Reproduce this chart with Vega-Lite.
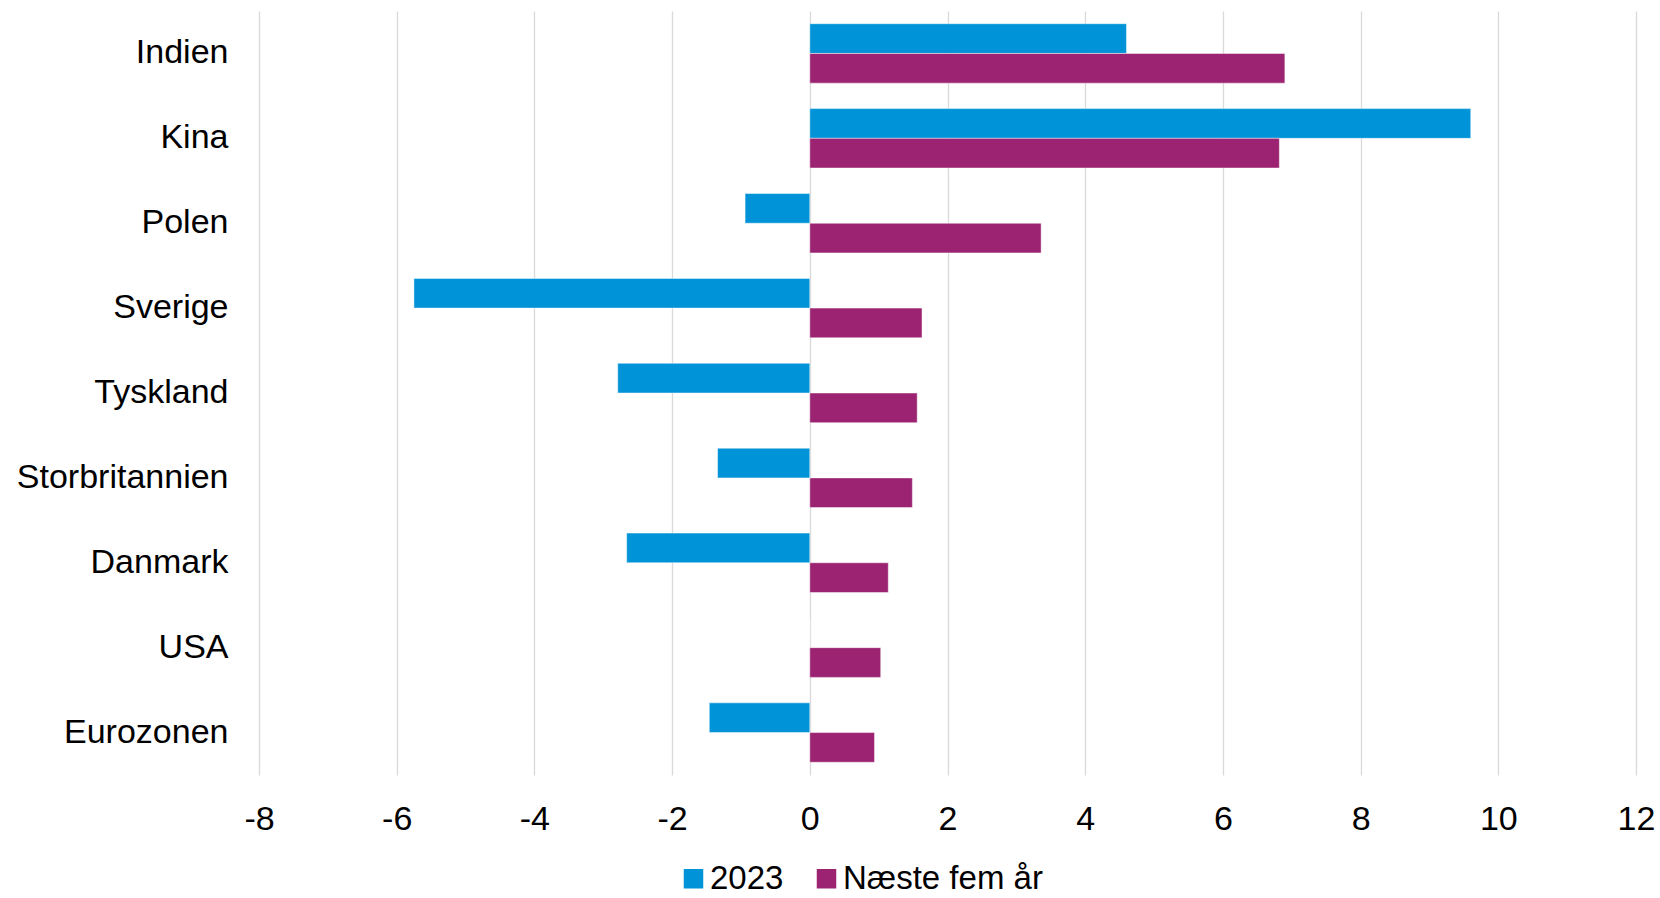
{
  "$schema": "https://vega.github.io/schema/vega-lite/v6.json",
  "width": 1377,
  "height": 764,
  "autosize": {"type": "none"},
  "padding": {"left": 259, "top": 11, "right": 24, "bottom": 123},
  "background": "white",
  "config": {
    "view": {"stroke": null},
    "font": "Liberation Sans",
    "axis": {"labelFont": "Liberation Sans", "labelFontSize": 34, "labelColor": "#000000", "labelLimit": 0},
    "legend": {"labelFont": "Liberation Sans", "labelFontSize": 33, "labelColor": "#000000", "labelLimit": 0}
  },
  "data": {
    "values": [
      {"land": "Indien", "serie": "2023", "vaerdi": 4.6},
      {"land": "Indien", "serie": "Næste fem år", "vaerdi": 6.9},
      {"land": "Kina", "serie": "2023", "vaerdi": 9.6},
      {"land": "Kina", "serie": "Næste fem år", "vaerdi": 6.82},
      {"land": "Polen", "serie": "2023", "vaerdi": -0.94},
      {"land": "Polen", "serie": "Næste fem år", "vaerdi": 3.36},
      {"land": "Sverige", "serie": "2023", "vaerdi": -5.75},
      {"land": "Sverige", "serie": "Næste fem år", "vaerdi": 1.63},
      {"land": "Tyskland", "serie": "2023", "vaerdi": -2.79},
      {"land": "Tyskland", "serie": "Næste fem år", "vaerdi": 1.56},
      {"land": "Storbritannien", "serie": "2023", "vaerdi": -1.34},
      {"land": "Storbritannien", "serie": "Næste fem år", "vaerdi": 1.49},
      {"land": "Danmark", "serie": "2023", "vaerdi": -2.66},
      {"land": "Danmark", "serie": "Næste fem år", "vaerdi": 1.14},
      {"land": "USA", "serie": "2023", "vaerdi": 0},
      {"land": "USA", "serie": "Næste fem år", "vaerdi": 1.03},
      {"land": "Eurozonen", "serie": "2023", "vaerdi": -1.46},
      {"land": "Eurozonen", "serie": "Næste fem år", "vaerdi": 0.94}
    ]
  },
  "mark": {"type": "bar", "stroke": "white", "strokeWidth": 0.8, "strokeOpacity": 0.6},
  "encoding": {
    "y": {
      "field": "land",
      "type": "nominal",
      "sort": ["Indien", "Kina", "Polen", "Sverige", "Tyskland", "Storbritannien", "Danmark", "USA", "Eurozonen"],
      "scale": {"paddingInner": 0.3, "paddingOuter": 0.15},
      "axis": {"title": null, "ticks": false, "domain": false, "labelPadding": 31, "grid": false}
    },
    "yOffset": {
      "field": "serie",
      "type": "nominal",
      "sort": ["2023", "Næste fem år"],
      "scale": {"paddingInner": 0, "paddingOuter": 0}
    },
    "x": {
      "field": "vaerdi",
      "type": "quantitative",
      "scale": {"domain": [-8, 12], "nice": false, "zero": false},
      "axis": {
        "title": null,
        "values": [-8, -6, -4, -2, 0, 2, 4, 6, 8, 10, 12],
        "labelExpr": "toString(datum.value)",
        "ticks": false,
        "domain": false,
        "grid": true,
        "gridColor": "#D9D9D9",
        "gridWidth": 1.3,
        "labelPadding": 27,
        "labelFlush": false
      }
    },
    "color": {
      "field": "serie",
      "type": "nominal",
      "sort": ["2023", "Næste fem år"],
      "scale": {"domain": ["2023", "Næste fem år"], "range": ["#0093D7", "#9B2371"]},
      "legend": {
        "title": null,
        "orient": "none",
        "direction": "horizontal",
        "legendX": 418,
        "legendY": 851,
        "symbolType": "square",
        "symbolSize": 380,
        "symbolStrokeWidth": 0,
        "labelOffset": 0,
        "columnPadding": 26
      }
    }
  }
}
